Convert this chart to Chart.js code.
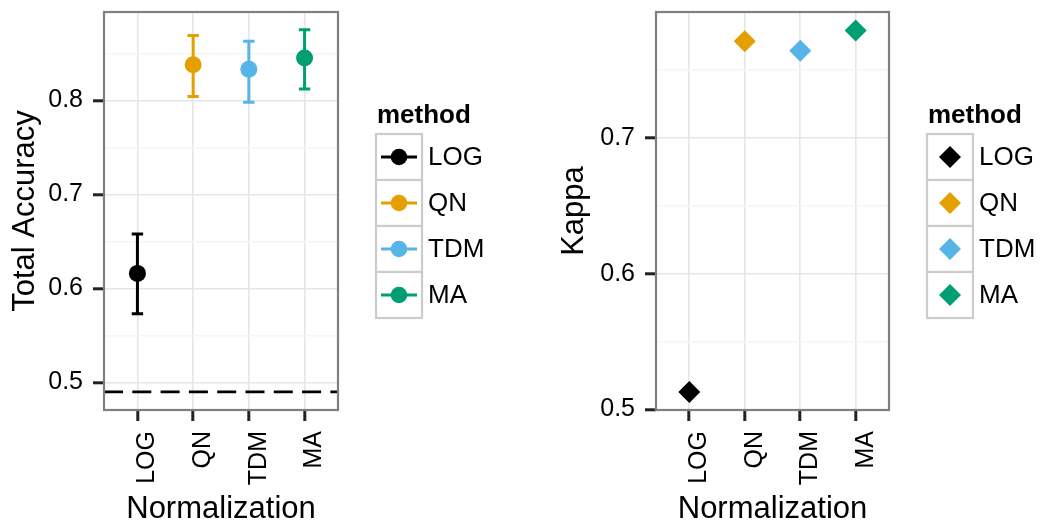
<!DOCTYPE html>
<html>
<head>
<meta charset="utf-8">
<title>Total Accuracy / Kappa by Normalization</title>
<script src="https://cdn.jsdelivr.net/npm/chart.js@4.4.1/dist/chart.umd.min.js"></script>
<style>
    html, body { margin: 0; padding: 0; background: #ffffff; }
    #wrap { position: relative; width: 1046px; height: 525px; overflow: hidden; }
    #chart_accuracy { position: absolute; left: 0; top: 0; }
    #chart_kappa { position: absolute; left: 545px; top: 0; }
</style>
</head>
<body>
<div id="wrap">
    <canvas id="chart_accuracy" width="520" height="525"></canvas>
    <canvas id="chart_kappa" width="501" height="525"></canvas>
</div>
<script>
let methods = ['LOG', 'QN', 'TDM', 'MA'];
let method_colors = ['#000000', '#E69F00', '#56B4E9', '#009E73'];

let accuracy = [0.616, 0.838, 0.833, 0.845];
let accuracy_low = [0.573, 0.804, 0.798, 0.812];
let accuracy_high = [0.658, 0.869, 0.863, 0.875];
let chance_level = 0.49;

let kappa = [0.513, 0.771, 0.764, 0.779];

let accuracy_ticks = [0.5, 0.55, 0.6, 0.65, 0.7, 0.75, 0.8, 0.85];
let kappa_ticks = [0.5, 0.55, 0.6, 0.65, 0.7, 0.75];
let major_ticks = [0.5, 0.6, 0.7, 0.8];

let font_family = '"Liberation Sans", Arial, Helvetica, sans-serif';
Chart.defaults.font.family = font_family;
Chart.defaults.color = '#000000';

function isMajor(v) {
    return major_ticks.some(m => Math.abs(m - v) < 1e-6);
}

function yAxis(min, max, tick_values, title, title_pad, axis_width) {
    return {
        type: 'linear',
        min: min,
        max: max,
        afterBuildTicks: function (scale) {
            scale.ticks = tick_values.map(v => ({ value: v }));
        },
        afterFit: function (scale) {
            scale.width = axis_width;
            scale.paddingTop = 0;
            scale.paddingBottom = 0;
        },
        border: { display: false },
        grid: {
            color: ctx => (ctx.tick && !isMajor(ctx.tick.value)) ? '#f5f5f5' : '#e6e6e6',
            lineWidth: 1.6,
            tickLength: 11,
            tickColor: ctx => (ctx.tick && !isMajor(ctx.tick.value)) ? 'rgba(0,0,0,0)' : '#222222',
            tickWidth: 3
        },
        ticks: {
            autoSkip: false,
            padding: 10,
            font: { size: 25 },
            callback: v => isMajor(v) ? v.toFixed(1) : ''
        },
        title: {
            display: true,
            text: title,
            font: { size: 31, lineHeight: 1 },
            padding: { top: title_pad, bottom: 0 }
        }
    };
}

function xAxis(axis_height) {
    return {
        type: 'linear',
        min: -0.6,
        max: 3.6,
        afterBuildTicks: function (scale) {
            scale.ticks = methods.map((m, i) => ({ value: i }));
        },
        afterFit: function (scale) {
            scale.height = axis_height;
            scale.paddingLeft = 0;
            scale.paddingRight = 0;
        },
        border: { display: false },
        grid: {
            color: '#e6e6e6',
            lineWidth: 1.6,
            tickLength: 11,
            tickColor: '#222222',
            tickWidth: 3
        },
        ticks: {
            autoSkip: false,
            minRotation: 90,
            maxRotation: 90,
            padding: 10,
            labelOffset: 10,
            font: { size: 25 },
            callback: v => methods[v]
        },
        title: {
            display: true,
            text: 'Normalization',
            font: { size: 31, lineHeight: 1 },
            padding: { top: 0, bottom: 0 }
        }
    };
}

// grey panel border drawn over everything, like theme_bw
let panelBorder = {
    id: 'panelBorder',
    afterDraw: function (chart) {
        let a = chart.chartArea;
        let ctx = chart.ctx;
        ctx.save();
        ctx.strokeStyle = '#7f7f7f';
        ctx.lineWidth = 2.2;
        ctx.strokeRect(a.left, a.top, a.right - a.left, a.bottom - a.top);
        ctx.restore();
    }
};

// dashed chance line + error bars under the points
let errorBars = {
    id: 'errorBars',
    beforeDatasetsDraw: function (chart) {
        let ctx = chart.ctx;
        let a = chart.chartArea;
        let xs = chart.scales.x;
        let ys = chart.scales.y;
        ctx.save();
        ctx.beginPath();
        ctx.rect(a.left, a.top, a.right - a.left, a.bottom - a.top);
        ctx.clip();

        let yc = ys.getPixelForValue(chance_level);
        ctx.strokeStyle = '#000000';
        ctx.lineWidth = 2.8;
        ctx.setLineDash([19, 9.3]);
        ctx.beginPath();
        ctx.moveTo(a.left, yc);
        ctx.lineTo(a.right, yc);
        ctx.stroke();
        ctx.setLineDash([]);

        methods.forEach(function (m, i) {
            let px = xs.getPixelForValue(i);
            let lo = ys.getPixelForValue(accuracy_low[i]);
            let hi = ys.getPixelForValue(accuracy_high[i]);
            ctx.strokeStyle = method_colors[i];
            ctx.lineWidth = 3;
            ctx.beginPath();
            ctx.moveTo(px, lo);
            ctx.lineTo(px, hi);
            ctx.moveTo(px - 5.7, lo);
            ctx.lineTo(px + 5.7, lo);
            ctx.moveTo(px - 5.7, hi);
            ctx.lineTo(px + 5.7, hi);
            ctx.stroke();
        });
        ctx.restore();
    }
};

function drawLegend(chart, key_style) {
    let ctx = chart.ctx;
    let x0 = chart.chartArea.right + 38;
    let y0 = 134;
    let size = 46;
    ctx.save();
    ctx.fillStyle = '#000000';
    ctx.font = 'bold 26px ' + font_family;
    ctx.textBaseline = 'alphabetic';
    ctx.textAlign = 'left';
    ctx.fillText('method', x0 + 1, 123);

    methods.forEach(function (m, i) {
        let top = y0 + i * size;
        let cx = x0 + size / 2;
        let cy = top + size / 2;
        ctx.fillStyle = '#ffffff';
        ctx.fillRect(x0, top, size, size);
        ctx.strokeStyle = '#cccccc';
        ctx.lineWidth = 2.2;
        ctx.strokeRect(x0, top, size, size);

        ctx.fillStyle = method_colors[i];
        ctx.strokeStyle = method_colors[i];
        if (key_style === 'errorbar') {
            ctx.lineWidth = 3;
            ctx.beginPath();
            ctx.moveTo(x0 + 5, cy);
            ctx.lineTo(x0 + size - 5, cy);
            ctx.stroke();
            ctx.beginPath();
            ctx.arc(cx, cy, 8.3, 0, Math.PI * 2);
            ctx.fill();
        } else {
            ctx.beginPath();
            ctx.moveTo(cx, cy - 11);
            ctx.lineTo(cx + 11, cy);
            ctx.lineTo(cx, cy + 11);
            ctx.lineTo(cx - 11, cy);
            ctx.closePath();
            ctx.fill();
        }

        ctx.fillStyle = '#000000';
        ctx.font = '26px ' + font_family;
        ctx.textBaseline = 'middle';
        ctx.fillText(m, x0 + size + 6, cy + 1);
    });
    ctx.restore();
}

let chartAccuracy = new Chart(document.getElementById('chart_accuracy'), {
    type: 'scatter',
    data: {
        datasets: [{
            label: 'Total Accuracy',
            data: accuracy.map((v, i) => ({ x: i, y: v })),
            backgroundColor: method_colors,
            borderWidth: 0,
            pointRadius: 8.5,
            pointStyle: 'circle',
            clip: false
        }]
    },
    options: {
        responsive: false,
        animation: false,
        events: [],
        layout: { padding: { left: 0, top: 12, right: 182, bottom: 0 } },
        scales: {
            x: xAxis(115),
            y: yAxis(0.4707, 0.894, accuracy_ticks, 'Total Accuracy', 10, 104)
        },
        plugins: {
            legend: { display: false },
            tooltip: { enabled: false }
        }
    },
    plugins: [errorBars, panelBorder, {
        id: 'methodLegend',
        afterDraw: chart => drawLegend(chart, 'errorbar')
    }]
});

let chartKappa = new Chart(document.getElementById('chart_kappa'), {
    type: 'scatter',
    data: {
        datasets: [{
            label: 'Kappa',
            data: kappa.map((v, i) => ({ x: i, y: v })),
            backgroundColor: method_colors,
            borderWidth: 0,
            pointRadius: 11,
            pointStyle: 'rectRot',
            clip: false
        }]
    },
    options: {
        responsive: false,
        animation: false,
        events: [],
        layout: { padding: { left: 0, top: 12, right: 157, bottom: 0 } },
        scales: {
            x: xAxis(115),
            y: yAxis(0.4997, 0.7926, kappa_ticks, 'Kappa', 14, 111)
        },
        plugins: {
            legend: { display: false },
            tooltip: { enabled: false }
        }
    },
    plugins: [panelBorder, {
        id: 'methodLegend',
        afterDraw: chart => drawLegend(chart, 'diamond')
    }]
});
</script>
</body>
</html>
